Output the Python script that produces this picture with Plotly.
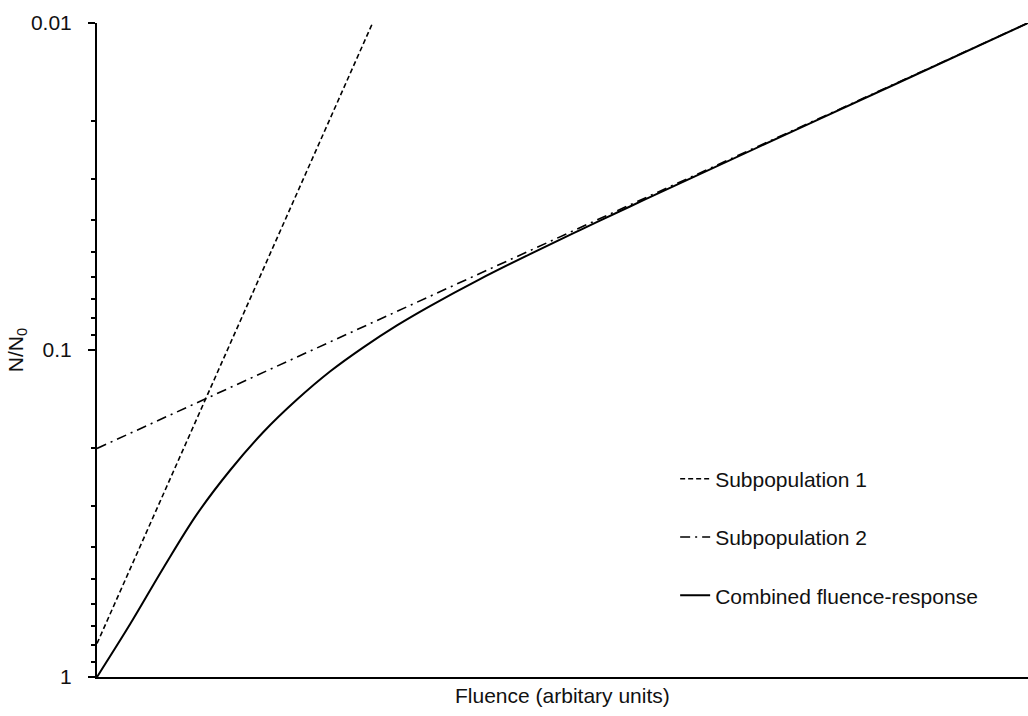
import plotly.graph_objects as go

# Fluence in arbitrary units (0-100 spans the plot)
sub1_x = [0, 29.6]
sub1_y = [0.79, 0.01]

sub2_x = [0, 100]
sub2_y = [0.2, 0.01]

comb_x = [0, 3.58, 7.16, 10.74, 14.32, 17.90, 21.48, 25.06, 28.65, 32.22,
          35.77, 41.14, 46.51, 51.88, 57.25, 63.70, 86.25, 100]
comb_y = [1.0, 0.6877, 0.4625, 0.3177, 0.2328, 0.1779, 0.1418, 0.1162, 0.0980, 0.0841,
          0.0734, 0.0607, 0.0509, 0.0430, 0.0364, 0.0299, 0.01515, 0.01]

y_tick_vals = [0.01, 0.1, 1]
y_tick_text = ["0.01", "0.1", "1"]
y_minor_vals = [0.02, 0.03, 0.04, 0.05, 0.06, 0.07, 0.08, 0.09,
                0.2, 0.3, 0.4, 0.5, 0.6, 0.7, 0.8, 0.9]

FONT = "Arial, Liberation Sans, sans-serif"
FS = 21

fig = go.Figure()
fig.add_trace(go.Scatter(x=sub1_x, y=sub1_y, mode="lines", name="Subpopulation 1",
                         line=dict(color="black", width=1.6, dash="5px,3px"),
                         legendgroup="a"))
fig.add_trace(go.Scatter(x=sub2_x, y=sub2_y, mode="lines", name="Subpopulation 2",
                         line=dict(color="black", width=1.6, dash="10px,5px,2px,5px"),
                         legendgroup="b"))
fig.add_trace(go.Scatter(x=comb_x, y=comb_y, mode="lines", name="Combined fluence-response",
                         line=dict(color="black", width=2, shape="spline", smoothing=1),
                         legendgroup="c"))

fig.update_layout(
    width=1028, height=716,
    margin=dict(l=97, r=0, t=23, b=39),
    paper_bgcolor="white", plot_bgcolor="white",
    font=dict(family=FONT, size=FS, color="#111"),
    showlegend=True,
    legend=dict(x=0.621, y=0.334, xanchor="left", yanchor="top",
                traceorder="grouped", tracegroupgap=28,
                bgcolor="rgba(0,0,0,0)", font=dict(size=FS)),
    xaxis=dict(range=[0, 100], showline=True, linecolor="black", linewidth=2,
               showticklabels=False, ticks="", showgrid=False, zeroline=False),
    yaxis=dict(type="log", range=[0, -2], showline=True, linecolor="black", linewidth=2,
               tickmode="array", tickvals=y_tick_vals, ticktext=y_tick_text,
               ticks="outside", ticklen=7, tickwidth=1.5, tickcolor="black",
               ticklabelstandoff=12, tickfont=dict(size=FS),
               minor=dict(tickmode="array", tickvals=y_minor_vals, ticks="outside",
                          ticklen=4, tickwidth=1.5, tickcolor="black", showgrid=False),
               showgrid=False, zeroline=False,
               title=dict(text="N/N<sub>0</sub>", standoff=2, font=dict(size=FS))),
    annotations=[dict(text="Fluence (arbitary units)", xref="paper", yref="paper",
                      x=0.5, y=0, xanchor="center", yanchor="top", yshift=-5,
                      showarrow=False, font=dict(size=FS))],
)

fig.write_html("out.html")
